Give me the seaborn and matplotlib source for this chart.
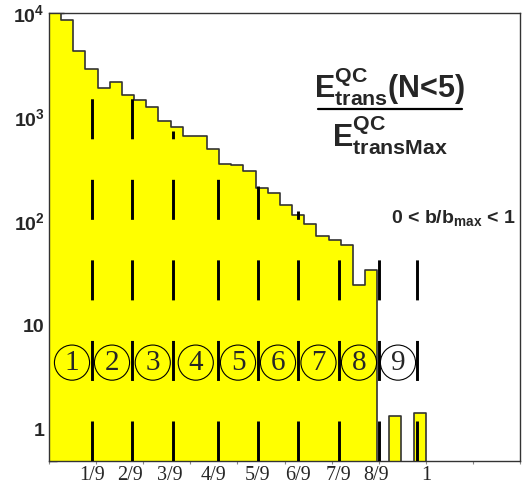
import numpy as np
import pandas as pd
import matplotlib
matplotlib.use("Agg")
import matplotlib.pyplot as plt
import seaborn as sns

# ----------------------------
# data
# ----------------------------
bin_edges = list(np.linspace(0, 1, 32))    # 31 bins on [0, 1]
counts = [9900, 8570, 4320, 2900, 1925, 2180, 1645, 1463, 1262, 927,
          806, 656, 656, 496, 354, 346, 307, 210, 187, 144,
          115, 94.6, 71.5, 66.5, 58.6, 24.6, 34.3, 0, 1.36, 0, 1.45]

# class boundaries (dashed markers) and their labels
boundaries = [0.1141, 0.2203, 0.3304, 0.4485, 0.5547, 0.6608, 0.7696, 0.8758, 0.9766]
boundary_labels = ["1/9", "2/9", "3/9", "4/9", "5/9", "6/9", "7/9", "8/9", "1"]
label_pos = [0.1141, 0.2160, 0.3210, 0.4370, 0.5547, 0.6608, 0.7670, 0.8680, 1.0]
line_tops = [2900, 1650, 740, 496, 219, 126, 66, 50, 50]
class_numbers = ["1", "2", "3", "4", "5", "6", "7", "8", "9"]

ytick_vals = [1, 10, 100, 1000, 10000]
ytick_labels = ["1", "10", r"$10^{2}$", r"$10^{3}$", r"$10^{4}$"]

centers = [(a + b) / 2 for a, b in zip(bin_edges[:-1], bin_edges[1:])]
df = pd.DataFrame({"ratio": centers, "w": counts})

# ----------------------------
# style
# ----------------------------
sns.set_theme(style="white")
plt.rcParams["font.family"] = ["Liberation Sans", "DejaVu Sans"]
plt.rcParams["mathtext.fontset"] = "custom"
plt.rcParams["mathtext.rm"] = "Liberation Sans:bold"
plt.rcParams["mathtext.bf"] = "Liberation Sans:bold"
plt.rcParams["mathtext.it"] = "Liberation Sans:bold"
plt.rcParams["mathtext.default"] = "bf"
plt.rcParams["lines.scale_dashes"] = False

fig = plt.figure(figsize=(5.22, 4.98), dpi=100)
ax = fig.add_axes([49 / 522, 37 / 498, 471 / 522, 448 / 498])

sns.histplot(data=df, x="ratio", weights="w", bins=bin_edges, element="step",
             fill=True, color="#ffff00", edgecolor="#333333", linewidth=1.2,
             alpha=1, ax=ax)

ax.set_yscale("log")
ax.set_ylim(0.5, 10000)
ax.set_xlim(0, 1.25)
ax.set_xlabel("")
ax.set_ylabel("")

# dashed class boundaries
for xb, top in zip(boundaries, line_tops):
    ax.plot([xb, xb], [0.5, top], color="black", lw=2.1,
            linestyle=(0, (28.8, 29.2)), solid_capstyle="butt",
            dash_capstyle="butt", zorder=4)

# circled class numbers between boundaries
lefts = [0.008] + boundaries[:-1]
circ_x = [(a + b) / 2 for a, b in zip(lefts, boundaries)]
circle_level = 4.4
ax.scatter(circ_x, [circle_level] * len(circ_x), s=640, facecolors="none",
           edgecolors="black", linewidths=0.8, zorder=5)
for cx, num in zip(circ_x, class_numbers):
    ax.text(cx, circle_level, num, ha="center", va="center",
            family="Liberation Serif", fontsize=21, zorder=6)

# boundary labels under the axis
for xb, lab in zip(label_pos, boundary_labels):
    ax.text(xb, -0.033, lab, transform=ax.get_xaxis_transform(),
            ha="center", va="center", family="Liberation Serif", fontsize=14.5)

# axes ticks
ax.set_xticks(np.arange(0, 1.26, 0.125))
ax.set_xticklabels([])
ax.tick_params(axis="x", which="major", direction="out", length=2,
               width=0.8, color="#888888", bottom=True)
ax.set_yticks(ytick_vals)
ax.set_yticklabels(ytick_labels, fontsize=14, fontweight="bold")
ax.yaxis.set_minor_locator(matplotlib.ticker.LogLocator(base=10, subs=np.arange(2, 10)))
ax.yaxis.set_minor_formatter(matplotlib.ticker.NullFormatter())
ax.tick_params(axis="y", which="major", direction="in", length=10.5,
               width=1, color="#333333", pad=3, left=True)
ax.tick_params(axis="y", which="minor", direction="in", length=5.8,
               width=1, color="#333333", left=True)

for side in ["left", "bottom", "top", "right"]:
    ax.spines[side].set_color("#333333")
    ax.spines[side].set_linewidth(1.0)

# title fraction
ax.text(0.724, 0.8125, r"E$^{QC}_{trans}$(N<5)", transform=ax.transAxes,
        ha="center", va="baseline", fontsize=22, fontweight="bold")
ax.plot([0.571, 0.877], [0.7857, 0.7857], transform=ax.transAxes,
        color="black", lw=1.6, clip_on=False)
ax.text(0.724, 0.701, r"E$^{QC}_{transMax}$", transform=ax.transAxes,
        ha="center", va="baseline", fontsize=22, fontweight="bold")

ax.text(0.858, 0.532, r"0 < b/b$_{max}$ < 1", transform=ax.transAxes,
        ha="center", va="baseline", fontsize=14, fontweight="bold")

plt.savefig("out.png", dpi=100)
